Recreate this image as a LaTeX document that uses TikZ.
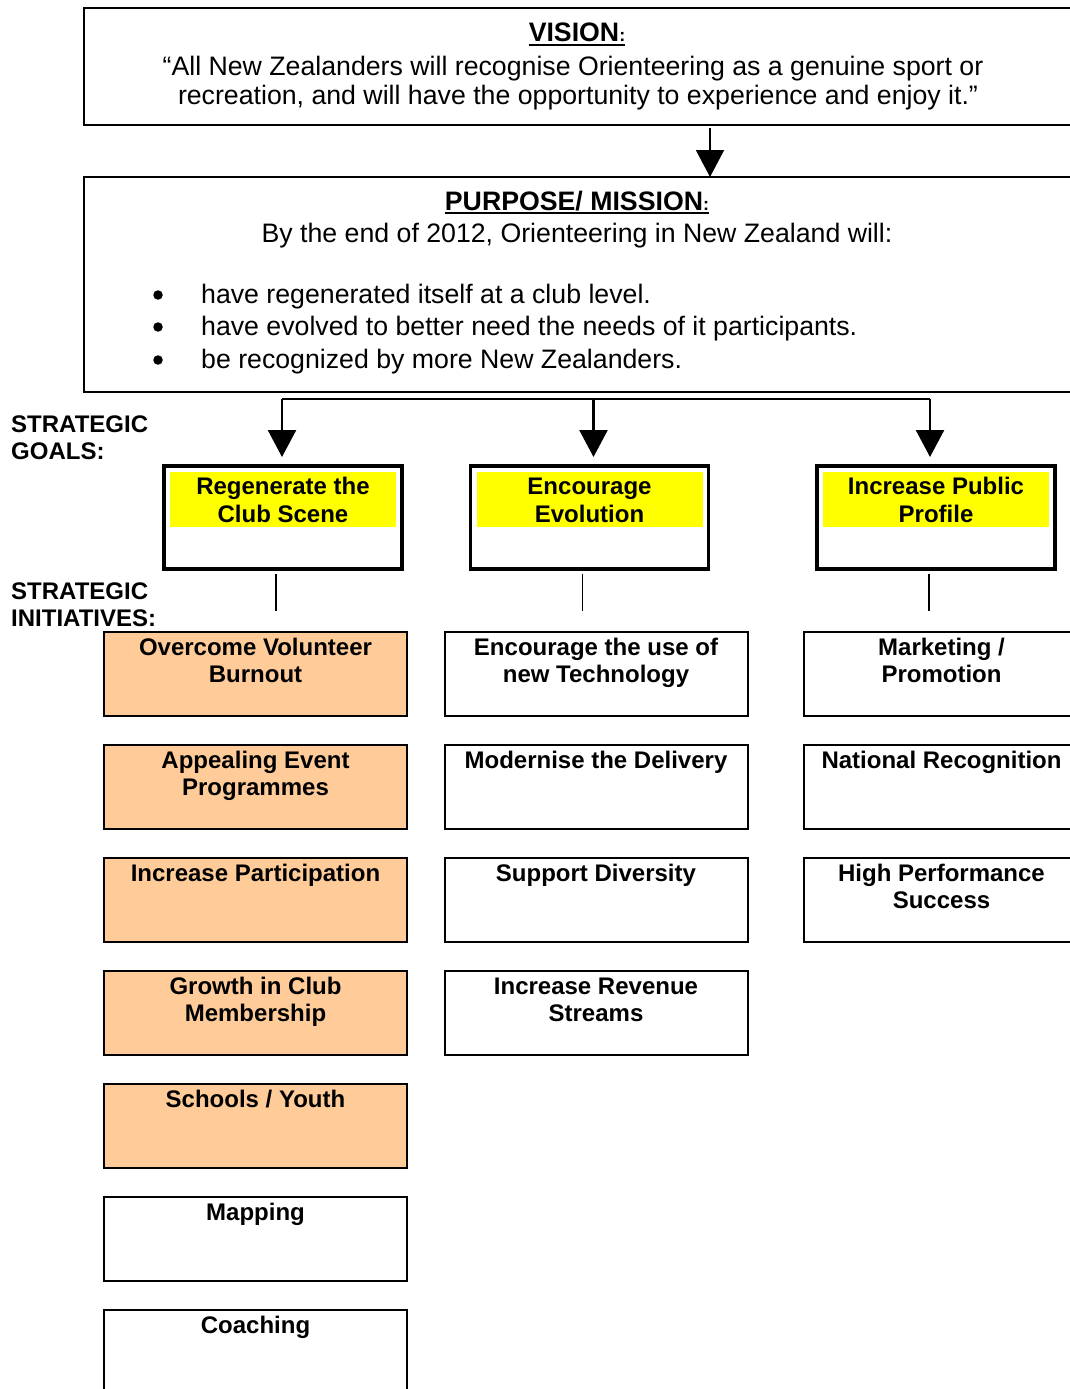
\documentclass[tikz,border=0pt]{standalone}
\usepackage{fontspec}
\setmainfont{Liberation Sans}
\usetikzlibrary{arrows.meta, calc}

\definecolor{peach}{HTML}{FFCC99}
\definecolor{goalyellow}{HTML}{FFFF00}

\newcommand{\bodyfont}{\fontsize{26.7}{30}\selectfont}
\newcommand{\boxfont}{\fontsize{24}{27.5}\selectfont\bfseries}

\begin{document}
\begin{tikzpicture}[
        x=1pt, y=-1pt,
        >={Triangle[width=28pt,length=27pt]},
        frame/.style={draw, line width=2.5pt, outer sep=0pt, inner sep=0pt, anchor=north west, minimum width=1000pt},
        goalbox/.style={draw, line width=3.5pt, outer sep=0pt, inner sep=0pt, anchor=north west, minimum width=238pt, minimum height=103pt},
        goalfill/.style={fill=goalyellow, outer sep=0pt, inner sep=0pt, minimum width=226pt, minimum height=55pt},
        initbox/.style={draw, line width=2pt, outer sep=0pt, inner sep=0pt, anchor=north west, minimum width=303pt, minimum height=84pt},
        boxtext/.style={font=\boxfont, align=center, inner sep=0pt, anchor=base},
        twolines/.style={yshift=-27.5pt},
        bodytext/.style={font=\bodyfont, inner sep=0pt, anchor=base},
        headtext/.style={font=\bodyfont\bfseries, inner sep=0pt, anchor=base},
        sidetext/.style={font=\boxfont, align=left, inner sep=0pt, anchor=base west},
        bulletdot/.style={circle, fill, inner sep=0pt, minimum size=9.5pt},
        flow/.style={->, line width=2pt},
        feed/.style={->, line width=2.5pt},
        stem/.style={line width=1.3pt}
    ]

% page size, boxes run off the right and bottom edge
        \useasboundingbox (0,0) rectangle (1070,1389);
        \clip (0,0) rectangle (1070,1389);

% Vision
        \node[frame, minimum height=117pt] (vision) at (84,8) {};
        \node[headtext] (visionhead) at (577,42) {VISION{\fontsize{18}{20}\selectfont:}};
        \draw[line width=1.6pt] ([yshift=-3pt]visionhead.base west) -- ([yshift=-3pt]visionhead.base east);
        \node[bodytext] (visionline1) at (573,75) {“All New Zealanders will recognise Orienteering as a genuine sport or};
        \node[bodytext] (visionline2) at (578,104) {recreation, and will have the opportunity to experience and enjoy it.”};

% Purpose / mission
        \node[frame, minimum height=215pt] (mission) at (84,177) {};
        \coordinate (visiontap) at (710,125);
        \draw[flow, shorten <=3pt] (visiontap) -- (visiontap |- mission.north);
        \node[headtext] (missionhead) at (577,210) {PURPOSE/ MISSION{\fontsize{18}{20}\selectfont:}};
        \draw[line width=1.6pt] ([yshift=-3pt]missionhead.base west) -- ([yshift=-3pt]missionhead.base east);
        \node[bodytext] (missionintro) at (577,242) {By the end of 2012, Orienteering in New Zealand will:};
        \node[bulletdot] (dot1) at (158,295) {};
        \node[bodytext, anchor=base west] (aim1) at (201,303) {have regenerated itself at a club level.};
        \node[bulletdot] (dot2) at (158,327) {};
        \node[bodytext, anchor=base west] (aim2) at (201,335.5) {have evolved to better need the needs of it participants.};
        \node[bulletdot] (dot3) at (158,360) {};
        \node[bodytext, anchor=base west] (aim3) at (201,368) {be recognized by more New Zealanders.};

% Side headings
        \node[sidetext, twolines] (goalshead) at (11,432) {STRATEGIC\\GOALS:};
        \node[sidetext, twolines] (initshead) at (11,599) {STRATEGIC\\INITIATIVES:};

% Strategic goals
        \node[goalbox] (regen) at (164,466) {};
        \node[goalfill] (regenfill) at ([yshift=-33.5pt]regen.north) {};
        \node[boxtext, twolines] (regentext) at ([yshift=-28.5pt]regen.north) {Regenerate the\\Club Scene};

        \node[goalbox] (evolve) at (470.5,466) {};
        \node[goalfill] (evolvefill) at ([yshift=-33.5pt]evolve.north) {};
        \node[boxtext, twolines] (evolvetext) at ([yshift=-28.5pt]evolve.north) {Encourage\\Evolution};

        \node[goalbox] (public) at (817,466) {};
        \node[goalfill] (publicfill) at ([yshift=-33.5pt]public.north) {};
        \node[boxtext, twolines] (publictext) at ([yshift=-28.5pt]public.north) {Increase Public\\Profile};

        \coordinate (bus) at (0,399);
        \coordinate (regentap) at ([xshift=-1pt]regen.north);
        \coordinate (evolvetap) at ([xshift=4pt]evolve.north);
        \coordinate (publictap) at ([xshift=-6pt]public.north);
        \draw[line width=2.5pt] (regentap |- bus) -- (publictap |- bus);
        \draw[feed, shorten >=9pt] (regentap |- bus) -- (regentap);
        \draw[feed, shorten >=9pt] (evolvetap |- bus) -- (evolvetap);
        \draw[feed, shorten >=9pt] (publictap |- bus) -- (publictap);

% Strategic initiatives, first column
        \node[initbox, fill=peach] (burnout) at (104,632) {};
        \node[boxtext, twolines] (burnouttext) at ([yshift=-23pt]burnout.north) {Overcome Volunteer\\Burnout};
        \node[initbox, fill=peach] (events) at (104,745) {};
        \node[boxtext, twolines] (eventstext) at ([yshift=-23pt]events.north) {Appealing Event\\Programmes};
        \node[initbox, fill=peach] (participation) at (104,858) {};
        \node[boxtext] (participationtext) at ([yshift=-23pt]participation.north) {Increase Participation};
        \node[initbox, fill=peach] (growth) at (104,971) {};
        \node[boxtext, twolines] (growthtext) at ([yshift=-23pt]growth.north) {Growth in Club\\Membership};
        \node[initbox, fill=peach] (youth) at (104,1084) {};
        \node[boxtext] (youthtext) at ([yshift=-23pt]youth.north) {Schools / Youth};
        \node[initbox] (mapping) at (104,1197) {};
        \node[boxtext] (mappingtext) at ([yshift=-23pt]mapping.north) {Mapping};
        \node[initbox] (coaching) at (104,1310) {};
        \node[boxtext] (coachingtext) at ([yshift=-23pt]coaching.north) {Coaching};

% second column
        \node[initbox] (technology) at (444.5,632) {};
        \node[boxtext, twolines] (technologytext) at ([yshift=-23pt]technology.north) {Encourage the use of\\new Technology};
        \node[initbox] (delivery) at (444.5,745) {};
        \node[boxtext] (deliverytext) at ([yshift=-23pt]delivery.north) {Modernise the Delivery};
        \node[initbox] (diversity) at (444.5,858) {};
        \node[boxtext] (diversitytext) at ([yshift=-23pt]diversity.north) {Support Diversity};
        \node[initbox] (revenue) at (444.5,971) {};
        \node[boxtext, twolines] (revenuetext) at ([yshift=-23pt]revenue.north) {Increase Revenue\\Streams};

% third column
        \node[initbox, minimum width=276pt] (marketing) at (803.5,632) {};
        \node[boxtext, twolines] (marketingtext) at ([yshift=-23pt]marketing.north) {Marketing /\\Promotion};
        \node[initbox, minimum width=276pt] (recognition) at (803.5,745) {};
        \node[boxtext] (recognitiontext) at ([yshift=-23pt]recognition.north) {National Recognition};
        \node[initbox, minimum width=276pt] (performance) at (803.5,858) {};
        \node[boxtext, twolines] (performancetext) at ([yshift=-23pt]performance.north) {High Performance\\Success};

% Goal to initiative stems
        \coordinate (regenstem) at ([xshift=-7pt]regen.south);
        \coordinate (evolvestem) at ([xshift=-7pt]evolve.south);
        \coordinate (publicstem) at ([xshift=-7pt]public.south);
        \draw[stem, shorten <=5pt, shorten >=21pt] (regenstem) -- (regenstem |- burnout.north);
        \draw[stem, shorten <=5pt, shorten >=21pt] (evolvestem) -- (evolvestem |- technology.north);
        \draw[stem, shorten <=5pt, shorten >=21pt] (publicstem) -- (publicstem |- marketing.north);
    \end{tikzpicture}
\end{document}
